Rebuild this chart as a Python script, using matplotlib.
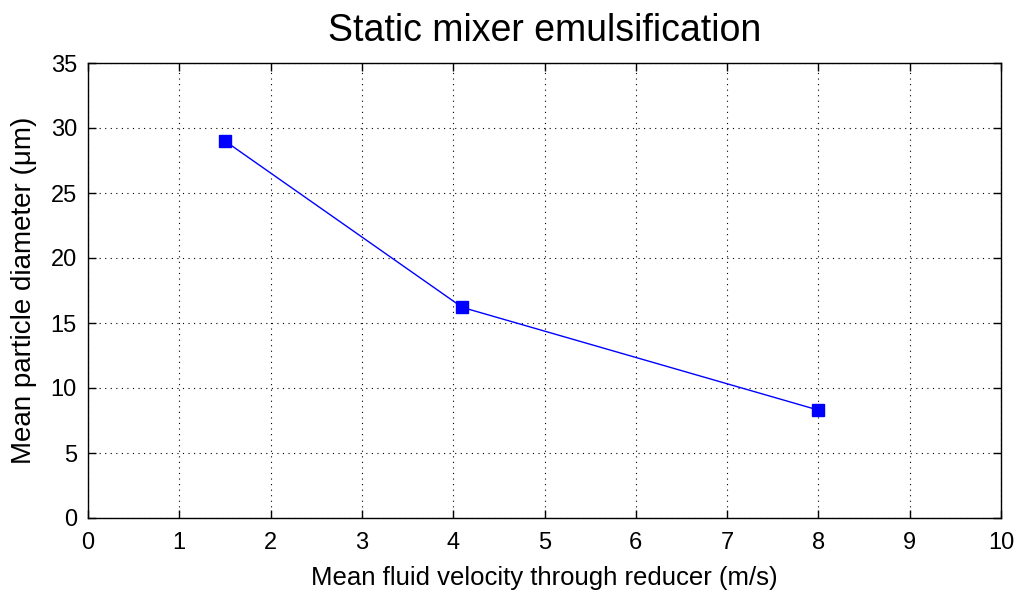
import numpy as np
import matplotlib
matplotlib.use("Agg")
import matplotlib.pyplot as plt

velocity = [1.5, 4.1, 8.0]
diameter = [29.0, 16.2, 8.3]
x_ticks = list(range(0, 11))
y_ticks = list(range(0, 36, 5))

plt.rcParams['font.family'] = ['Liberation Sans', 'DejaVu Sans']

fig = plt.figure(figsize=(10.17, 5.94), dpi=100)
ax = fig.add_axes([88/1017, 1 - 518/594, (1001-88)/1017, (518-63)/594])

ax.plot(velocity, diameter, color='blue', linewidth=1, marker='s',
        markersize=9, markerfacecolor='blue', markeredgecolor='blue')

ax.set_xlim(0, 10)
ax.set_ylim(0, 35)
ax.set_xticks(x_ticks)
ax.set_yticks(y_ticks)
ax.grid(True, linestyle=(0, (1, 4)), color='black', linewidth=0.8)
ax.tick_params(direction='in', top=True, right=True, length=6, width=1,
               labelsize=17)
ax.tick_params(axis='x', pad=10)
ax.tick_params(axis='y', pad=8)
for s in ax.spines.values():
    s.set_linewidth(1)

ax.set_title("Static mixer emulsification", fontsize=27, pad=16)
ax.set_xlabel("Mean fluid velocity through reducer (m/s)", fontsize=18.5, labelpad=9)
ax.set_ylabel("Mean particle diameter (\u03bcm)", fontsize=20, labelpad=10)

fig.savefig("out.png", dpi=100)
